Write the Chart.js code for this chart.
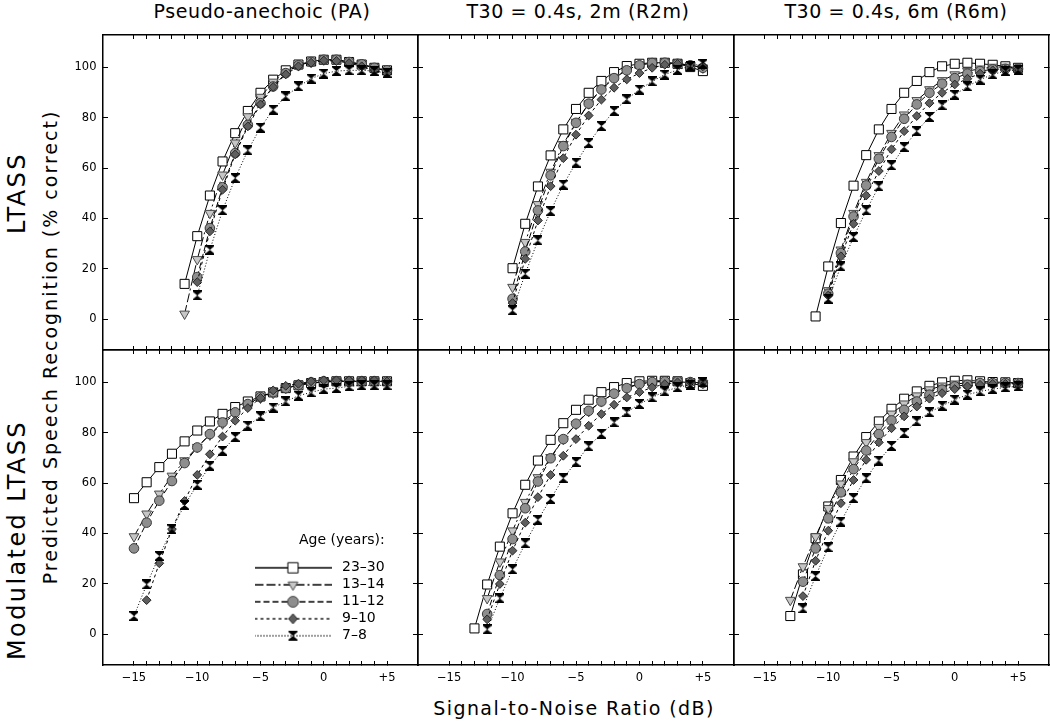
<!DOCTYPE html>
<html>
<head>
<meta charset="utf-8">
<script src="https://cdn.jsdelivr.net/npm/chart.js"></script>
<style>
  body { margin: 0; background: #fff; }
  #fig { position: relative; width: 1050px; height: 721px; overflow: hidden; font-family: 'DejaVu Sans', sans-serif; color: #000; }
  #fig canvas { position: absolute; }
  .lbl { position: absolute; white-space: nowrap; line-height: 1; transform: translate(-50%, -50%); }
  .rot { transform: translate(-50%, -50%) rotate(-90deg); }
</style>
</head>
<body>
<div id="fig">
  <div class="lbl" style="left:262px;top:11px;font-size:19px;letter-spacing:0.6px">Pseudo-anechoic (PA)</div>
  <div class="lbl" style="left:578px;top:11px;font-size:19px;letter-spacing:0.6px">T30 = 0.4s, 2m (R2m)</div>
  <div class="lbl" style="left:896px;top:11px;font-size:19px;letter-spacing:0.6px">T30 = 0.4s, 6m (R6m)</div>
  <div class="lbl" style="left:574px;top:708px;font-size:19px;letter-spacing:1.4px">Signal-to-Noise Ratio (dB)</div>
  <div class="lbl rot" style="left:50px;top:347px;font-size:19px;letter-spacing:2px">Predicted Speech Recognition (% correct)</div>
  <div class="lbl rot" style="left:17px;top:193px;font-size:24px;letter-spacing:2.4px">LTASS</div>
  <div class="lbl rot" style="left:17px;top:540px;font-size:24px;letter-spacing:2.4px">Modulated LTASS</div>
</div>
<script>
const _ = null;

// SNR (dB), one entry per measured point
const snr = [-15, -14, -13, -12, -11, -10, -9, -8, -7, -6, -5, -4, -3, -2, -1, 0, 1, 2, 3, 4, 5];
const yTicks = [0, 20, 40, 60, 80, 100];
const ageGroups = ['23–30', '13–14', '11–12', '9–10', '7–8'];

// LTASS - pseudo-anechoic
const paLtass2330 = [_, _, _, _, 14.1, 33.0, 49.1, 62.6, 73.8, 82.6, 89.8, 95.0, 98.7, 101.0, 102.2, 102.9, 102.9, 102.0, 101.0, 99.7, 98.7];
const paLtass1314 = [_, _, _, _, 2.2, 23.8, 42.1, 57.3, 70.0, 80.4, 88.1, 94.1, 98.0, 100.7, 102.0, 102.9, 102.9, 102.0, 101.0, 99.7, 98.4];
const paLtass1112 = [_, _, _, _, _, 16.8, 36.2, 52.4, 65.9, 77.1, 85.7, 92.3, 97.6, 100.7, 102.0, 102.9, 102.9, 102.0, 101.1, 99.7, 98.7];
const paLtass910 = [_, _, _, _, _, 14.8, 34.9, 51.4, 65.4, 76.5, 85.2, 92.1, 97.1, 100.3, 101.7, 102.6, 102.4, 101.6, 100.3, 98.7, 97.4];
const paLtass78 = [_, _, _, _, _, 9.5, 27.6, 43.2, 56.0, 67.0, 76.0, 83.1, 88.4, 92.3, 95.4, 97.4, 98.4, 98.7, 98.7, 98.4, 97.6];

// LTASS - R2m
const r2mLtass2330 = [_, _, _, _, _, 20.3, 37.9, 52.7, 65.0, 75.3, 83.4, 89.8, 94.5, 98.0, 100.4, 101.3, 101.7, 101.7, 101.3, 100.0, 98.4];
const r2mLtass1314 = [_, _, _, _, _, 12.8, 30.6, 45.6, 58.4, 69.4, 78.2, 85.5, 91.4, 96.0, 98.9, 100.9, 101.6, 101.7, 101.5, 100.7, 99.7];
const r2mLtass1112 = [_, _, _, _, _, 8.2, 26.9, 43.2, 57.1, 68.7, 77.9, 85.5, 91.1, 95.6, 98.7, 100.7, 101.6, 101.7, 101.3, 100.7, 99.7];
const r2mLtass910 = [_, _, _, _, _, 6.5, 24.0, 39.2, 52.8, 63.9, 73.2, 80.8, 87.1, 91.8, 95.1, 97.6, 99.7, 100.9, 101.3, 100.7, 100.3];
const r2mLtass78 = [_, _, _, _, _, 3.6, 18.1, 31.3, 42.9, 53.4, 62.1, 69.9, 76.6, 82.6, 87.2, 91.1, 94.3, 97.0, 98.9, 100.4, 101.3];

// LTASS - R6m
const r6mLtass2330 = [_, _, _, _, 1.2, 21.0, 38.2, 53.0, 65.1, 75.3, 83.4, 89.8, 94.5, 98.0, 100.3, 101.3, 101.7, 101.3, 100.9, 100.3, 99.7];
const r6mLtass1314 = [_, _, _, _, _, 11.5, 27.6, 42.1, 54.4, 65.0, 73.8, 81.1, 86.8, 91.1, 94.7, 97.0, 98.4, 99.3, 100.0, 100.0, 99.7];
const r6mLtass1112 = [_, _, _, _, _, 10.2, 26.3, 40.8, 53.1, 63.7, 72.3, 79.5, 85.2, 89.8, 93.4, 95.6, 97.4, 98.4, 99.1, 99.3, 99.3];
const r6mLtass910 = [_, _, _, _, _, 9.5, 25.0, 37.9, 49.1, 58.8, 67.4, 74.6, 80.6, 85.7, 89.8, 93.1, 95.4, 97.4, 98.7, 99.1, 99.1];
const r6mLtass78 = [_, _, _, _, _, 8.2, 21.0, 32.6, 43.2, 52.7, 61.0, 68.3, 74.6, 80.2, 84.8, 89.0, 92.3, 95.0, 97.1, 98.4, 98.9];

// Modulated LTASS - pseudo-anechoic
const paMod2330 = [54.0, 60.3, 66.3, 71.6, 76.5, 80.8, 84.4, 87.4, 90.1, 92.3, 94.3, 95.9, 97.6, 98.7, 99.6, 100.0, 100.3, 100.3, 100.3, 100.3, 100.3];
const paMod1314 = [38.8, 47.8, 55.7, 62.8, 68.9, 74.2, 79.1, 83.5, 87.3, 91.0, 93.7, 95.6, 97.6, 98.7, 99.6, 100.0, 100.3, 100.3, 100.3, 100.3, 100.0];
const paMod1112 = [34.1, 44.3, 53.0, 60.8, 67.9, 74.1, 79.4, 84.0, 88.0, 91.3, 94.0, 96.0, 97.6, 98.9, 99.9, 100.3, 100.3, 100.3, 100.3, 100.3, 100.3];
const paMod910 = [_, 13.6, 28.2, 41.7, 52.9, 63.2, 71.4, 78.4, 84.7, 89.7, 93.7, 96.7, 98.5, 99.3, 100.3, 100.7, 100.7, 100.7, 100.7, 100.7, 100.3];
const paMod78 = [7.3, 19.8, 31.1, 41.7, 51.3, 59.3, 66.8, 72.8, 78.2, 82.7, 86.4, 89.9, 92.3, 94.6, 95.9, 97.2, 97.6, 98.3, 98.7, 98.7, 98.7];

// Modulated LTASS - R2m
const r2mMod2330 = [_, _, 2.4, 19.8, 34.8, 48.0, 59.3, 68.9, 77.1, 83.7, 89.0, 93.0, 96.0, 98.0, 99.6, 100.3, 100.5, 100.5, 100.3, 99.6, 98.5];
const r2mMod1314 = [_, _, _, 14.3, 28.8, 41.1, 52.4, 62.2, 70.2, 77.4, 83.3, 88.4, 92.3, 95.6, 97.9, 99.3, 100.0, 100.3, 100.3, 100.0, 99.6];
const r2mMod1112 = [_, _, _, 8.1, 23.5, 37.8, 50.0, 60.6, 69.8, 77.4, 83.5, 88.6, 92.3, 95.4, 97.6, 99.2, 100.0, 100.3, 100.3, 100.0, 99.6];
const r2mMod910 = [_, _, _, 6.0, 20.0, 33.2, 44.3, 54.4, 63.2, 70.8, 77.4, 82.7, 87.3, 91.0, 93.9, 96.0, 97.9, 99.2, 99.9, 100.0, 100.0];
const r2mMod78 = [_, _, _, 2.0, 14.3, 25.8, 36.1, 45.4, 53.7, 61.9, 68.3, 74.5, 79.5, 84.0, 88.0, 91.3, 93.9, 96.3, 97.9, 98.9, 99.9];

// Modulated LTASS - R6m
const r6mMod2330 = [_, _, 7.3, 23.8, 38.1, 50.7, 61.2, 70.5, 78.2, 84.4, 89.4, 93.4, 96.3, 98.5, 99.9, 100.5, 100.7, 100.3, 100.0, 99.9, 99.6];
const r6mMod1314 = [_, _, 13.6, 26.9, 38.8, 50.0, 59.7, 68.5, 76.1, 82.1, 87.4, 91.4, 94.6, 97.0, 98.5, 99.3, 99.6, 99.9, 99.9, 99.6, 99.6];
const r6mMod1112 = [_, _, _, 20.9, 34.1, 46.0, 56.3, 65.5, 72.9, 79.4, 84.8, 89.0, 92.3, 95.0, 97.0, 98.3, 98.9, 99.6, 99.6, 99.6, 99.6];
const r6mMod910 = [_, _, _, 15.2, 29.2, 41.1, 52.0, 61.2, 69.2, 76.1, 81.7, 86.4, 90.3, 93.4, 95.6, 97.2, 98.3, 98.9, 99.3, 99.3, 99.3];
const r6mMod78 = [_, _, _, 10.3, 23.1, 34.5, 44.7, 54.0, 61.9, 68.9, 74.7, 79.8, 84.4, 88.0, 90.6, 93.0, 95.0, 96.3, 97.2, 97.9, 98.3];

const panels = [
  { row: 0, col: 0, series: [paLtass2330, paLtass1314, paLtass1112, paLtass910, paLtass78] },
  { row: 0, col: 1, series: [r2mLtass2330, r2mLtass1314, r2mLtass1112, r2mLtass910, r2mLtass78] },
  { row: 0, col: 2, series: [r6mLtass2330, r6mLtass1314, r6mLtass1112, r6mLtass910, r6mLtass78] },
  { row: 1, col: 0, series: [paMod2330, paMod1314, paMod1112, paMod910, paMod78] },
  { row: 1, col: 1, series: [r2mMod2330, r2mMod1314, r2mMod1112, r2mMod910, r2mMod78] },
  { row: 1, col: 2, series: [r6mMod2330, r6mMod1314, r6mMod1112, r6mMod910, r6mMod78] }
];

// geometry of the 2x3 grid
const X_MIN = -17.45, X_MAX = 7.45;
const Y_MIN = -12.1, Y_MAX = 112.7;
const PANEL_LEFT = [103, 418, 734];
const PANEL_W = [315, 316, 315];
const PANEL_TOP = [35, 350];
const PANEL_H = 315;
const PAD_L = 70, PAD_T = 6, PAD_R = 6, PAD_B = 50;

Chart.defaults.font.family = "'DejaVu Sans', sans-serif";
Chart.defaults.color = '#000';

// hourglass marker for 7-8 year olds
function makeHourglass() {
  const c = document.createElement('canvas');
  c.width = 9; c.height = 10;
  const g = c.getContext('2d');
  g.fillStyle = '#000';
  g.beginPath();
  g.moveTo(0, 0); g.lineTo(9, 0); g.lineTo(9, 1.3); g.lineTo(4.5, 5);
  g.lineTo(9, 8.7); g.lineTo(9, 10); g.lineTo(0, 10); g.lineTo(0, 8.7);
  g.lineTo(4.5, 5); g.lineTo(0, 1.3);
  g.closePath();
  g.fill();
  return c;
}
const hourglass = makeHourglass();

const seriesStyles = [
  { pointStyle: 'rect', radius: 6.4, rotation: 0, fill: '#ffffff', edge: '#000000', dash: [] },
  { pointStyle: 'triangle', radius: 5.6, rotation: 180, fill: '#c6c6c6', edge: '#4a4a4a', dash: [9, 3, 9, 3, 2, 3] },
  { pointStyle: 'circle', radius: 4.8, rotation: 0, fill: '#8e8e8e', edge: '#3a3a3a', dash: [6, 3] },
  { pointStyle: 'rectRot', radius: 4.4, rotation: 0, fill: '#5e5e5e', edge: '#262626', dash: [3, 3] },
  { pointStyle: hourglass, radius: 4.5, rotation: 0, fill: '#000000', edge: '#000000', dash: [1, 2] }
];

function xLabel(v) {
  if (v % 5 !== 0) return '';
  if (v > 0) return '+' + v;
  if (v < 0) return '\u2212' + (-v);
  return '0';
}

function axisGrid(len) {
  return { drawOnChartArea: false, drawTicks: true, tickLength: len, tickColor: '#000', tickWidth: 1 };
}
const axisBorder = { display: true, color: '#000', width: 1.5 };

// fixed axis size, and no extra room for label overflow
function fixSize(prop, size) {
  return s => {
    s[prop] = size;
    s.paddingLeft = 0; s.paddingRight = 0; s.paddingTop = 0; s.paddingBottom = 0;
  };
}

function buildDatasets(seriesList) {
  return seriesList.map((vals, i) => {
    const st = seriesStyles[i];
    return {
      label: ageGroups[i],
      data: snr.map((x, k) => ({ x: x, y: vals[k] })).filter(p => p.y !== null),
      borderColor: '#000',
      borderWidth: 1,
      borderDash: st.dash,
      pointStyle: st.pointStyle,
      pointRadius: st.radius,
      pointRotation: st.rotation,
      pointBackgroundColor: st.fill,
      pointBorderColor: st.edge,
      pointBorderWidth: 1,
      fill: false,
      tension: 0
    };
  }).reverse(); // youngest group drawn on top
}

const fig = document.getElementById('fig');

panels.forEach(p => {
  const canvas = document.createElement('canvas');
  const w = PAD_L + PANEL_W[p.col] + PAD_R;
  const h = PAD_T + PANEL_H + PAD_B;
  canvas.width = w; canvas.height = h;
  canvas.style.left = (PANEL_LEFT[p.col] - PAD_L) + 'px';
  canvas.style.top = (PANEL_TOP[p.row] - PAD_T) + 'px';
  fig.appendChild(canvas);

  const showX = p.row === 1;
  const showY = p.col === 0;

  new Chart(canvas, {
    type: 'line',
    data: { datasets: buildDatasets(p.series) },
    options: {
      responsive: false,
      animation: false,
      events: [],
      devicePixelRatio: 1,
      layout: { padding: { left: 0, top: PAD_T, right: PAD_R, bottom: 0 }, autoPadding: false },
      plugins: { legend: { display: false }, tooltip: { enabled: false } },
      scales: {
        x: {
          type: 'linear', position: 'bottom', min: X_MIN, max: X_MAX,
          afterBuildTicks: s => { s.ticks = snr.map(v => ({ value: v })); },
          afterFit: fixSize('height', PAD_B),
          border: axisBorder,
          grid: axisGrid(-4),
          ticks: { display: showX, autoSkip: false, maxRotation: 0, padding: 10, font: { size: 11.5 }, callback: xLabel }
        },
        x2: {
          type: 'linear', position: 'top', min: X_MIN, max: X_MAX,
          afterBuildTicks: s => { s.ticks = snr.map(v => ({ value: v })); },
          afterFit: fixSize('height', 0),
          border: axisBorder,
          grid: axisGrid(-4),
          ticks: { display: false, autoSkip: false }
        },
        y: {
          type: 'linear', position: 'left', min: Y_MIN, max: Y_MAX,
          afterBuildTicks: s => { s.ticks = yTicks.map(v => ({ value: v })); },
          afterFit: fixSize('width', PAD_L),
          border: axisBorder,
          grid: axisGrid(-5),
          ticks: { display: showY, autoSkip: false, padding: 11.5, font: { size: 11.5 } }
        },
        y2: {
          type: 'linear', position: 'right', min: Y_MIN, max: Y_MAX,
          afterBuildTicks: s => { s.ticks = yTicks.map(v => ({ value: v })); },
          afterFit: fixSize('width', 0),
          border: axisBorder,
          grid: axisGrid(-5),
          ticks: { display: false, autoSkip: false }
        }
      }
    }
  });
});

// legend samples: line style with the marker in the middle
function makeLegendSample(st) {
  const c = document.createElement('canvas');
  c.width = 77; c.height = 14;
  const g = c.getContext('2d');
  const cx = 38.5, cy = 7;
  g.strokeStyle = '#000';
  g.lineWidth = 1.3;
  g.setLineDash(st.dash);
  g.beginPath(); g.moveTo(0, cy); g.lineTo(77, cy); g.stroke();
  g.setLineDash([]);
  g.lineWidth = 1;
  g.fillStyle = st.fill;
  g.strokeStyle = st.edge;
  const r = st.radius;
  g.beginPath();
  if (st.pointStyle === 'rect') {
    const s = r * Math.SQRT1_2 + 0.6;
    g.rect(cx - s, cy - s, 2 * s, 2 * s);
  } else if (st.pointStyle === 'triangle') {
    g.moveTo(cx - r * 0.866, cy - r * 0.5);
    g.lineTo(cx + r * 0.866, cy - r * 0.5);
    g.lineTo(cx, cy + r);
    g.closePath();
  } else if (st.pointStyle === 'circle') {
    g.arc(cx, cy, r + 0.6, 0, Math.PI * 2);
  } else if (st.pointStyle === 'rectRot') {
    g.moveTo(cx, cy - r - 0.6); g.lineTo(cx + r, cy); g.lineTo(cx, cy + r + 0.6); g.lineTo(cx - r, cy);
    g.closePath();
  } else {
    g.drawImage(st.pointStyle, cx - st.pointStyle.width / 2, cy - st.pointStyle.height / 2);
    return c;
  }
  g.fill();
  g.stroke();
  return c;
}
const legendSamples = seriesStyles.map(makeLegendSample);

const legendCanvas = document.createElement('canvas');
legendCanvas.width = 142; legendCanvas.height = 130;
legendCanvas.style.left = '248px';
legendCanvas.style.top = '533px';
fig.appendChild(legendCanvas);

new Chart(legendCanvas, {
  type: 'line',
  data: { datasets: ageGroups.map(a => ({ label: a, data: [] })) },
  options: {
    responsive: false,
    animation: false,
    events: [],
    devicePixelRatio: 1,
    layout: { padding: 0, autoPadding: false },
    scales: { x: { display: false }, y: { display: false } },
    plugins: {
      tooltip: { enabled: false },
      legend: {
        position: 'top',
        align: 'start',
        maxHeight: 130,
        title: { display: true, text: 'Age (years):', position: 'end', color: '#000', font: { size: 14 }, padding: { top: 0, bottom: 8 } },
        labels: {
          usePointStyle: true,
          pointStyleWidth: 84,
          padding: 3,
          color: '#000',
          font: { size: 14 },
          generateLabels: chart => chart.data.datasets.map((d, i) => ({
            text: d.label,
            pointStyle: legendSamples[i],
            datasetIndex: i,
            fillStyle: '#fff',
            strokeStyle: '#000',
            lineWidth: 0,
            hidden: false
          }))
        }
      }
    }
  }
});
</script>
</body>
</html>
